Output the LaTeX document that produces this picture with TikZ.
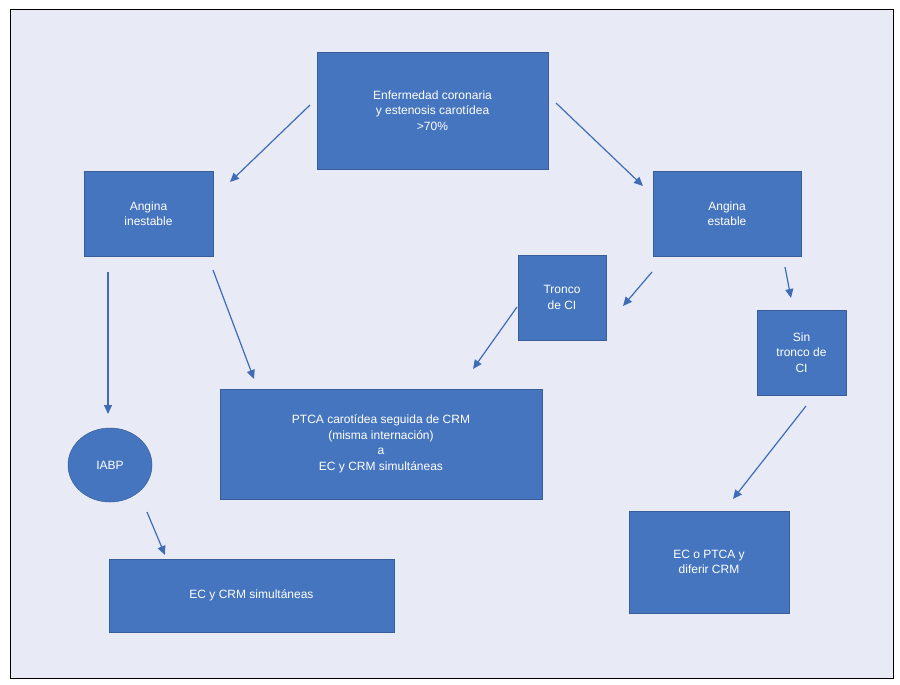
\documentclass[tikz,border=0pt]{standalone}
\usepackage{fontspec}
\setmainfont{Liberation Sans}
\usetikzlibrary{arrows.meta,shapes.geometric}
\definecolor{bg}{HTML}{E8EAF6}
\definecolor{bx}{HTML}{4675BF}
\definecolor{ar}{HTML}{3F6DB5}
\tikzset{
 box/.style={fill=bx,draw=bx!80!black,line width=0.5pt,text=white,align=center,font=\fontsize{12}{15.5}\selectfont,inner sep=0pt},
 conn/.style={draw=ar,line width=1.2pt,-{Triangle[length=9pt,width=8pt]}}
}
\begin{document}
\begin{tikzpicture}[x=1pt,y=-1pt]
\useasboundingbox (0,0) rectangle (900,685);
\draw[fill=bg,line width=1pt] (10,10) rectangle (893,678);
\node[box,minimum width=231,minimum height=117] (top) at (432.5,110.5) {Enfermedad coronaria\\y estenosis carotídea\\>70\%};
\node[box,minimum width=129,minimum height=85] (ai) at (148.5,213.5) {Angina\\inestable};
\node[box,minimum width=148,minimum height=85] (ae) at (727,213.5) {Angina\\estable};
\node[box,minimum width=88,minimum height=85] (tr) at (562,297.5) {Tronco\\de CI};
\node[box,minimum width=89,minimum height=85] (st) at (801.5,352.5) {Sin\\tronco de\\CI};
\node[box,minimum width=322,minimum height=110] (pt) at (381,444) {PTCA carotídea seguida de CRM\\(misma internación)\\a\\EC y CRM simultáneas};
\node[box,ellipse,minimum width=84,minimum height=74] (ia) at (110,465) {IABP};
\node[box,minimum width=285,minimum height=73] (ec) at (251.5,595.5) {EC y CRM simultáneas};
\node[box,minimum width=160,minimum height=102] (eo) at (709,562) {EC o PTCA y\\diferir CRM};
\coordinate (a1) at (310,105); \coordinate (b1) at (230,182);
\coordinate (a2) at (556,103); \coordinate (b2) at (643,186);
\coordinate (a3) at (652,272); \coordinate (b3) at (623,306);
\coordinate (a4) at (785,267); \coordinate (b4) at (791,298);
\coordinate (a5) at (517,307); \coordinate (b5) at (473,369);
\coordinate (a6) at (213,270); \coordinate (b6) at (254,379);
\coordinate (a7) at (108,272); \coordinate (b7) at (108,414);
\coordinate (a8) at (147,512); \coordinate (b8) at (165,555);
\coordinate (a9) at (806,406); \coordinate (b9) at (733,499);
\foreach \i in {1,...,9} \draw[conn] (a\i) -- (b\i);
\end{tikzpicture}
\end{document}
